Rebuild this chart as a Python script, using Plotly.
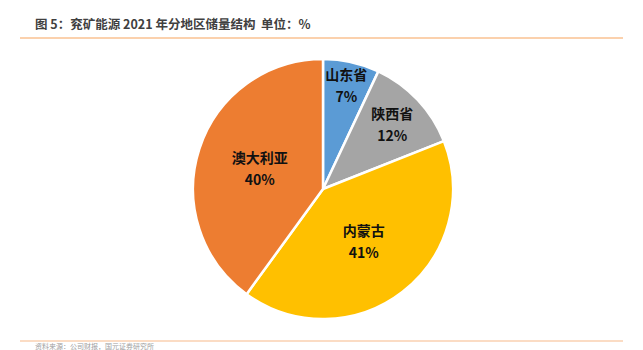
import plotly.graph_objects as go

labels = ["山东省", "陕西省", "内蒙古", "澳大利亚"]
values = [7, 12, 41, 40]
colors = ["#5B9BD5", "#A5A5A5", "#FFC000", "#ED7D31"]
title = "图 5：兖矿能源 2021 年分地区储量结构  单位：%"
source = "资料来源：公司财报，国元证券研究所"

fig = go.Figure(go.Pie(
    labels=labels, values=values, sort=False, direction="clockwise", rotation=0,
    marker=dict(colors=colors, line=dict(color="white", width=2.5)),
    texttemplate=("<span style='font-size:14px'><b>%{label}</b></span><br>"
                  "<span style='font-size:14px'><b>%{percent:.0%}</b></span>"),
    textposition="inside", insidetextorientation="horizontal",
    textfont=dict(family="Noto Sans CJK SC", size=17, color="#111111"),
    domain=dict(x=[193/643, 453/643], y=[31/350, 291/350]),
    showlegend=False, hoverinfo="label+percent",
))

fig.update_layout(
    width=643, height=350, margin=dict(l=0, r=0, t=0, b=0),
    paper_bgcolor="white", plot_bgcolor="white",
    uniformtext=dict(minsize=14, mode="show"),
    shapes=[
        dict(type="line", xref="paper", yref="paper", x0=20/643, x1=623/643,
             y0=1-38/350, y1=1-38/350, line=dict(color="#F7A35C", width=1.2)),
        dict(type="line", xref="paper", yref="paper", x0=20/643, x1=623/643,
             y0=1-341/350, y1=1-341/350, line=dict(color="#F7B98A", width=1.2)),
    ],
    annotations=[
        dict(text="<b>" + title + "</b>", xref="paper", yref="paper", x=33/643, y=1-23/350,
             xanchor="left", yanchor="middle", showarrow=False,
             font=dict(family="Noto Sans CJK SC", size=12.5, color="#404040")),
        dict(text=source, xref="paper", yref="paper", x=33/643, y=1-346/350,
             xanchor="left", yanchor="middle", showarrow=False,
             font=dict(family="Noto Sans CJK SC", size=7, color="#A0A0A0")),
    ],
)

fig.write_html("out.html")
